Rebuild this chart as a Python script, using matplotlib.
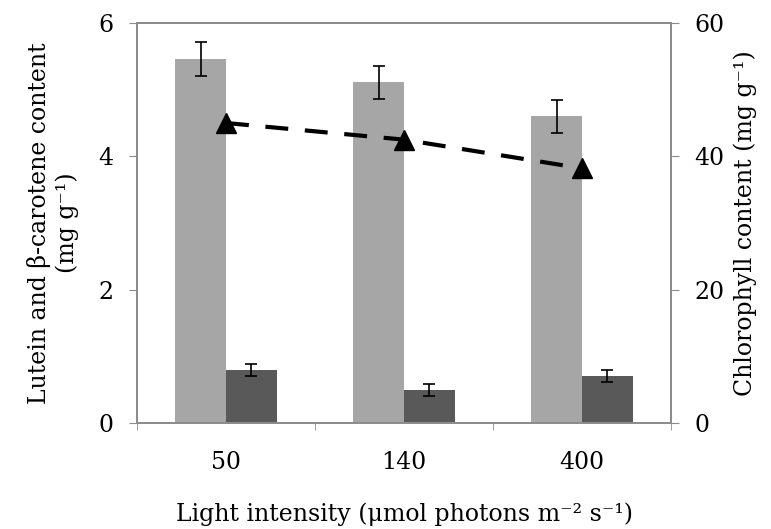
import matplotlib.pyplot as plt
import numpy as np

# data
categories = ['50', '140', '400']
lutein = [5.46, 5.11, 4.60]
lutein_err = [0.25, 0.25, 0.25]
carotene = [0.79, 0.50, 0.70]
carotene_err = [0.09, 0.09, 0.09]
chlorophyll = [45.0, 42.5, 38.2]

plt.rcParams['font.family'] = ['DejaVu Serif']
plt.rcParams['font.size'] = 17

fig = plt.figure(figsize=(7.71, 5.29), dpi=100)
ax = fig.add_axes([137 / 771, 1 - 423 / 529, 534 / 771, 400 / 529])
ax2 = ax.twinx()

x = np.arange(len(categories))
w = 0.285
spine_c = '#8C8C8C'

ax.bar(x - w / 2, lutein, w, color='#A6A6A6', zorder=2)
ax.bar(x + w / 2, carotene, w, color='#595959', zorder=2)
ax.errorbar(x - w / 2, lutein, yerr=lutein_err, fmt='none', ecolor='black',
            elinewidth=1.2, capsize=4, capthick=1.2, zorder=3)
ax.errorbar(x + w / 2, carotene, yerr=carotene_err, fmt='none', ecolor='black',
            elinewidth=1.2, capsize=4, capthick=1.2, zorder=3)

ax2.plot(x, chlorophyll, color='black', linestyle=(0, (5.5, 4)), linewidth=3,
         marker='^', markersize=14)

ax.set_xlim(-0.5, 2.5)
ax.set_ylim(0, 6)
ax.set_yticks([0, 2, 4, 6])
ax2.set_ylim(0, 60)
ax2.set_yticks([0, 20, 40, 60])

# category labels centred, tick marks at the group borders
ax.set_xticks(x)
ax.set_xticklabels(categories)
ax.set_xticks([-0.5, 0.5, 1.5, 2.5], minor=True)
ax.tick_params(axis='x', which='major', length=0, pad=20)
ax.tick_params(axis='x', which='minor', length=5, color=spine_c, direction='out')
ax.tick_params(axis='y', length=6, color=spine_c, pad=11)
ax2.tick_params(axis='y', length=6, color=spine_c, pad=11)

for a in (ax, ax2):
    for s in ('left', 'right', 'bottom', 'top'):
        a.spines[s].set_color(spine_c)
        a.spines[s].set_linewidth(1.3)

ax.set_xlabel('Light intensity (μmol photons m⁻² s⁻¹)', labelpad=21)
ax.set_ylabel('Lutein and β-carotene content\n(mg g⁻¹)', labelpad=14,
              linespacing=1.25)
ax2.set_ylabel('Chlorophyll content (mg g⁻¹)', labelpad=6)

fig.savefig('out.png', dpi=100)
